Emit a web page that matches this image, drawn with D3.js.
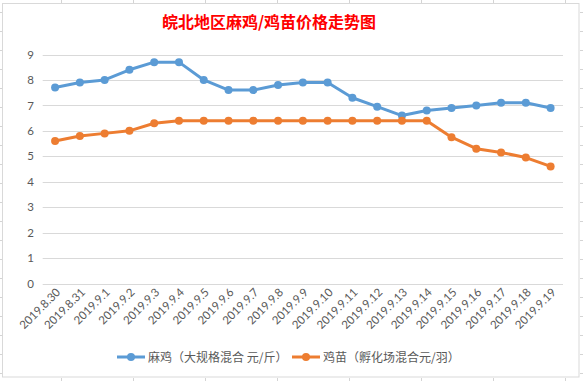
<!DOCTYPE html>
<html><head><meta charset="utf-8">
<script src="https://cdn.jsdelivr.net/npm/d3@7"></script>
<style>html,body{margin:0;padding:0;background:#fff;}svg{display:block;}</style>
</head><body>
<svg id="c" width="583" height="381"></svg>
<script>
const categories = ["2019.8.30","2019.8.31","2019.9.1","2019.9.2","2019.9.3","2019.9.4","2019.9.5","2019.9.6","2019.9.7","2019.9.8","2019.9.9","2019.9.10","2019.9.11","2019.9.12","2019.9.13","2019.9.14","2019.9.15","2019.9.16","2019.9.17","2019.9.18","2019.9.19"];
const maji = [7.7,7.9,8.0,8.4,8.7,8.7,8.0,7.6,7.6,7.8,7.9,7.9,7.3,6.95,6.6,6.8,6.9,7.0,7.1,7.1,6.9];
const jimiao = [5.6,5.8,5.9,6.0,6.3,6.4,6.4,6.4,6.4,6.4,6.4,6.4,6.4,6.4,6.4,6.4,5.75,5.3,5.15,4.95,4.6];
const yTicks = [0,1,2,3,4,5,6,7,8,9];
const seriesNames = ["麻鸡（大规格混合 元/斤）","鸡苗（孵化场混合元/羽）"];
const colors = ["#5B9BD5","#ED7D31"];
const title = "皖北地区麻鸡/鸡苗价格走势图";

const svg = d3.select("#c");
const cjk = "'Noto Sans CJK SC', sans-serif";
const num = "Lato, 'Noto Sans', sans-serif";

// sheet grid fragments outside chart
const sheet = svg.append("g").attr("stroke","#D4D4D4").attr("stroke-width",1);
d3.range(61, 583, 72).forEach(x=>{
  sheet.append("line").attr("x1",x+0.5).attr("x2",x+0.5).attr("y1",0).attr("y2",3);
  sheet.append("line").attr("x1",x+0.5).attr("x2",x+0.5).attr("y1",378).attr("y2",381);
});
d3.range(12, 381, 19).forEach(y=>{
  sheet.append("line").attr("x1",0).attr("x2",2).attr("y1",y+0.5).attr("y2",y+0.5);
  sheet.append("line").attr("x1",580).attr("x2",583).attr("y1",y+0.5).attr("y2",y+0.5);
});
svg.append("rect").attr("x",2.5).attr("y",3.5).attr("width",576.5).attr("height",373.5)
  .attr("fill","#fff").attr("stroke","#D9D9D9").attr("stroke-width",1);

const x = d3.scaleBand().domain(categories).range([42.7,563]);
const y = d3.scaleLinear().domain([0,9]).range([283.5,54.5]);

// gridlines
const grid = svg.append("g");
grid.selectAll("line").data(yTicks).join("line")
  .attr("x1",x.range()[0]).attr("x2",x.range()[1])
  .attr("y1",d=>Math.round(y(d))+0.5).attr("y2",d=>Math.round(y(d))+0.5)
  .attr("stroke","#D9D9D9").attr("stroke-width",1);

// y axis labels
const yAxis = d3.axisLeft(y).tickValues(yTicks).tickSize(0).tickPadding(0).tickFormat(d3.format("d"));
const ya = svg.append("g").attr("transform","translate(34,0)").call(yAxis);
ya.select(".domain").remove();
ya.selectAll("text").attr("font-family",num).attr("font-size",11.5).attr("fill","#595959");

// x axis labels
const xAxis = d3.axisBottom(x).tickSize(0).tickPadding(0);
const xa = svg.append("g").attr("transform","translate(0,283)").call(xAxis);
xa.select(".domain").remove();
xa.selectAll("text").attr("font-family",num).attr("font-size",11.5).attr("fill","#595959")
  .attr("text-anchor","end").attr("dy",0).attr("y",0)
  .attr("transform","translate(6,10) rotate(-45)");

// lines
const line = d3.line().x((d,i)=>x(categories[i])+x.bandwidth()/2).y(d=>y(d));
[maji,jimiao].forEach((s,k)=>{
  const g = svg.append("g");
  g.append("path").datum(s).attr("d",line).attr("fill","none")
    .attr("stroke",colors[k]).attr("stroke-width",3).attr("stroke-linejoin","round").attr("stroke-linecap","round");
  g.selectAll("circle").data(s).join("circle")
    .attr("cx",(d,i)=>x(categories[i])+x.bandwidth()/2).attr("cy",d=>y(d))
    .attr("r",4).attr("fill",colors[k]);
});

// title
svg.append("text").attr("x",269).attr("y",28).attr("text-anchor","middle")
  .attr("font-family",cjk).attr("font-size",16).attr("font-weight","bold").attr("fill","#FF0000")
  .text(title);

// legend
const legX = [117,292];
seriesNames.forEach((n,k)=>{
  const g = svg.append("g");
  g.append("line").attr("x1",legX[k]).attr("x2",legX[k]+28).attr("y1",357).attr("y2",357)
    .attr("stroke",colors[k]).attr("stroke-width",3);
  g.append("circle").attr("cx",legX[k]+14).attr("cy",357).attr("r",4).attr("fill",colors[k]);
  g.append("text").attr("x",legX[k]+31).attr("y",361.5).attr("font-family",cjk).attr("font-size",12)
    .attr("fill","#595959").text(n);
});
</script>
</body></html>
